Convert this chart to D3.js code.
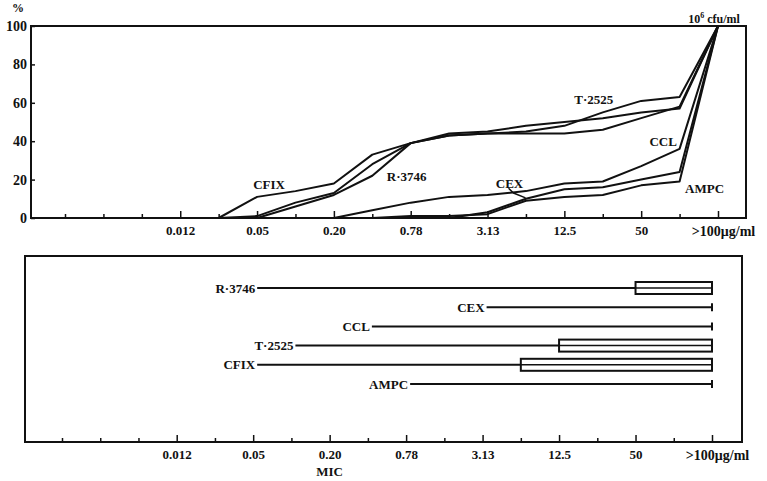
<!DOCTYPE html>
<html>
<head>
<meta charset="utf-8">
<script src="https://cdn.jsdelivr.net/npm/d3@7"></script>
<style>
  body { margin: 0; background: #fff; }
  text { font-family: "Liberation Serif", "DejaVu Serif", serif; font-weight: bold; fill: #111; }
</style>
</head>
<body>
<div id="chart"></div>
<script>

// dilution steps on the x axis (two-fold series)
var concLevels = ["0.0015", "0.003", "0.006", "0.012", "0.025", "0.05", "0.10", "0.20", "0.39",
                  "0.78", "1.56", "3.13", "6.25", "12.5", "25", "50", "100", ">100"];
var labelledLevels = ["0.012", "0.05", "0.20", "0.78", "3.13", "12.5", "50", ">100"];
var yTicks = [0, 20, 40, 60, 80, 100];

// cumulative % of strains inhibited, one value per step (null = not started)
var cfixPct  = [null, null, null, null, 0, 11, 14, 18, 33, 39, 44, 45, 48, 50, 52, 55, 57, 100];
var r3746Pct = [null, null, null, null, 0, 1, 8, 13, 28, 39, 43, 44, 44, 44, 46, 52, 58, 100];
var t2525Pct = [null, null, null, null, null, 0, 6, 12, 22, 39, 43, 44, 45, 48, 55, 61, 63, 100];
var cclPct   = [null, null, null, null, null, null, null, 0, 4, 8, 11, 12, 14, 18, 19, 27, 36, 100];
var cexPct   = [null, null, null, null, null, null, null, null, null, null, 0, 3, 10, 15, 16, 20, 24, 100];
var ampcPct  = [null, null, null, null, null, null, null, null, 0, 1, 1, 2, 9, 11, 12, 17, 19, 100];

// MIC ranges for the lower panel
var rangeDrugs = ["R·3746", "CEX", "CCL", "T·2525", "CFIX", "AMPC"];
var rangeMin   = ["0.05", "3.13", "0.39", "0.10", "0.05", "0.78"];
var rangeMax   = [">100", ">100", ">100", ">100", ">100", ">100"];
var boxFrom    = ["50", null, null, "12.5", "6.25", null];

var svgWidth = 767;
var svgHeight = 481;

var svg = d3.select("#chart")
  .append("svg")
  .attr("width", svgWidth)
  .attr("height", svgHeight);

// ---------- upper panel ----------
var upper = { left: 31, right: 746, top: 26, bottom: 218 };

var xTop = d3.scalePoint().domain(concLevels).range([65, 718]);
var yTop = d3.scaleLinear().domain([0, 100]).range([upper.bottom, upper.top]);

function tickText(d) {
  if (d === ">100") return ">100μg/ml";
  return labelledLevels.indexOf(d) >= 0 ? d : "";
}

svg.append("rect")
  .attr("x", upper.left)
  .attr("y", upper.top)
  .attr("width", upper.right - upper.left)
  .attr("height", upper.bottom - upper.top)
  .attr("fill", "none")
  .attr("stroke", "#111")
  .attr("stroke-width", 2);

var xAxisTop = svg.append("g")
  .attr("transform", `translate(0, ${upper.bottom})`)
  .call(d3.axisBottom(xTop).tickSizeInner(-4).tickSizeOuter(0).tickPadding(8).tickFormat(tickText));

var yAxisTop = svg.append("g")
  .attr("transform", `translate(${upper.left}, 0)`)
  .call(d3.axisLeft(yTop).tickValues(yTicks).tickSizeInner(-4).tickSizeOuter(0).tickPadding(4));

function styleAxis(g) {
  g.select(".domain").remove();
  g.selectAll("line").attr("stroke", "#111").attr("stroke-width", 1.5);
  g.selectAll("text").style("font-size", "13px").attr("fill", "#111");
}
styleAxis(xAxisTop);
styleAxis(yAxisTop);
yAxisTop.selectAll("text").style("font-size", "14px");
xAxisTop.selectAll(".tick")
  .filter(d => labelledLevels.indexOf(d) >= 0)
  .select("line").attr("y2", -7);
xAxisTop.selectAll(".tick text").filter(d => d === ">100")
  .attr("dx", 5).style("font-size", "14px");

svg.append("text")
  .attr("x", 18)
  .attr("y", 12)
  .attr("text-anchor", "middle")
  .style("font-size", "12px")
  .text("%");

var cfu = svg.append("text")
  .attr("x", xTop(">100") - 4)
  .attr("y", upper.top - 3)
  .attr("text-anchor", "middle")
  .style("font-size", "12px");
cfu.append("tspan").text("10");
cfu.append("tspan").attr("dy", -5).style("font-size", "8px").text("6");
cfu.append("tspan").attr("dy", 5).text("  cfu/ml");

var curves = [
  { name: "CFIX",   values: cfixPct,  label: ["0.05", 17.5, 12] },
  { name: "R·3746", values: r3746Pct, label: ["0.78", 21.5, -4] },
  { name: "T·2525", values: t2525Pct, label: ["25", 62, -9] },
  { name: "CCL",    values: cclPct,   label: ["50", 40, 22] },
  { name: "CEX",    values: cexPct,   label: ["3.13", 18, 22] },
  { name: "AMPC",   values: ampcPct,  label: ["100", 15.5, 25] }
];

var line = d3.line()
  .defined(d => d.pct !== null)
  .x(d => xTop(d.level))
  .y(d => yTop(d.pct));

curves.forEach(function(c) {
  var pts = concLevels.map((lv, i) => ({ level: lv, pct: c.values[i] }));
  svg.append("path")
    .datum(pts)
    .attr("d", line)
    .attr("fill", "none")
    .attr("stroke", "#111")
    .attr("stroke-width", 2)
    .attr("stroke-linejoin", "round");

  svg.append("text")
    .attr("x", xTop(c.label[0]) + c.label[2])
    .attr("y", yTop(c.label[1]))
    .attr("dy", "0.35em")
    .attr("text-anchor", "middle")
    .style("font-size", "13px")
    .text(c.name);
});

// little leader from the CEX label down to its curve
var cexLx = xTop("3.13") + 22;
svg.append("path")
  .attr("d", d3.line()([[cexLx - 1, yTop(15.5)], [cexLx + 4, yTop(13)], [cexLx + 16, yTop(10.5)]]))
  .attr("fill", "none")
  .attr("stroke", "#111")
  .attr("stroke-width", 1.5);

// ---------- lower panel ----------
var lower = { left: 25, right: 742, top: 256, bottom: 442 };

var xBot = d3.scalePoint().domain(concLevels).range([62, 712]);
var yBot = d3.scalePoint().domain(rangeDrugs).range([288, 384]);

svg.append("rect")
  .attr("x", lower.left)
  .attr("y", lower.top)
  .attr("width", lower.right - lower.left)
  .attr("height", lower.bottom - lower.top)
  .attr("fill", "none")
  .attr("stroke", "#111")
  .attr("stroke-width", 2);

var xAxisBot = svg.append("g")
  .attr("transform", `translate(0, ${lower.bottom})`)
  .call(d3.axisBottom(xBot).tickSizeInner(-4).tickSizeOuter(0).tickPadding(8).tickFormat(tickText));
styleAxis(xAxisBot);
xAxisBot.selectAll(".tick")
  .filter(d => labelledLevels.indexOf(d) >= 0)
  .select("line").attr("y2", -7);
xAxisBot.selectAll(".tick text").filter(d => d === ">100")
  .attr("dx", 5).style("font-size", "14px");

svg.append("text")
  .attr("x", xBot("0.20"))
  .attr("y", 476)
  .attr("text-anchor", "middle")
  .style("font-size", "13px")
  .text("MIC");

rangeDrugs.forEach(function(name, i) {
  var y = yBot(name);
  var x0 = xBot(rangeMin[i]) + 4;
  var x1 = xBot(rangeMax[i]);

  svg.append("line")
    .attr("x1", x0).attr("x2", x1)
    .attr("y1", y).attr("y2", y)
    .attr("stroke", "#111")
    .attr("stroke-width", 2);

  svg.append("text")
    .attr("x", x0 - 2)
    .attr("y", y)
    .attr("dy", "0.35em")
    .attr("text-anchor", "end")
    .style("font-size", "13px")
    .text(name);

  if (boxFrom[i]) {
    var bx = xBot(boxFrom[i]);
    svg.append("rect")
      .attr("x", bx).attr("y", y - 6)
      .attr("width", x1 - bx).attr("height", 12)
      .attr("fill", "#fff")
      .attr("stroke", "#111")
      .attr("stroke-width", 2);
    svg.append("line")
      .attr("x1", bx).attr("x2", x1)
      .attr("y1", y).attr("y2", y)
      .attr("stroke", "#111")
      .attr("stroke-width", 1.5);
  } else {
    // end mark at the top of the range
    svg.append("line")
      .attr("x1", x1).attr("x2", x1)
      .attr("y1", y - 4).attr("y2", y + 4)
      .attr("stroke", "#111")
      .attr("stroke-width", 2);
  }
});

</script>
</body>
</html>
